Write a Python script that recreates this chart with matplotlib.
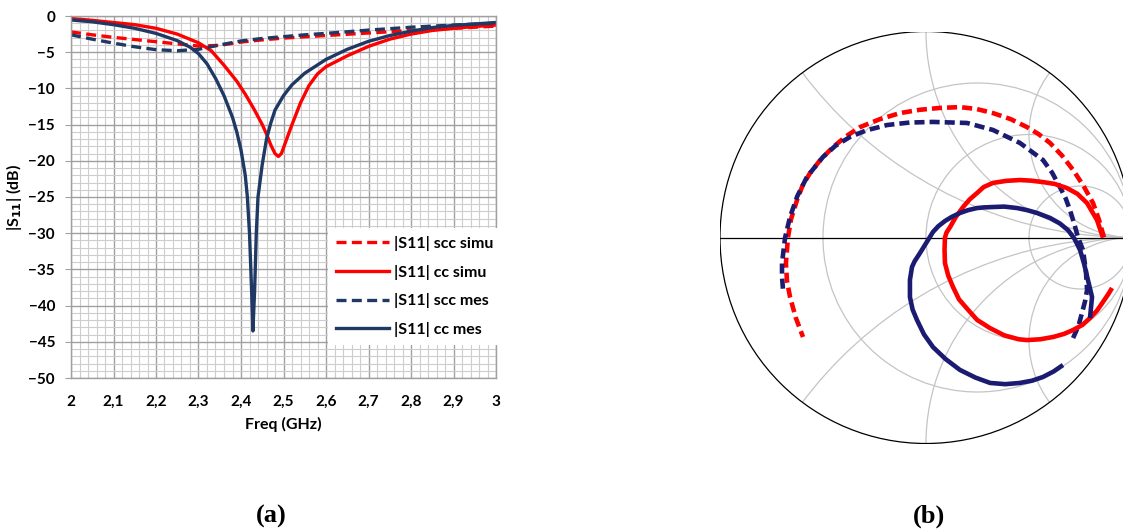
import numpy as np
import matplotlib
matplotlib.use('Agg')
import matplotlib.pyplot as plt
from matplotlib.patches import Circle
from matplotlib.ticker import MultipleLocator, FixedLocator, FixedFormatter

# ---------------- data: |S11| versus frequency ----------------
freq_cc_mes = [2.00, 2.05, 2.10, 2.15, 2.20, 2.25, 2.28, 2.30, 2.32, 2.34, 2.36, 2.38, 2.39,
               2.40, 2.41, 2.415, 2.42, 2.425, 2.428, 2.432, 2.436, 2.44, 2.45, 2.46, 2.47,
               2.48, 2.50, 2.52, 2.55, 2.60, 2.65, 2.70, 2.75, 2.80, 2.85, 2.90, 2.95, 3.00]
s11_cc_mes = [-0.55, -0.8, -1.2, -1.7, -2.4, -3.4, -4.3, -5.2, -6.6, -8.6, -11.0, -14.0, -16.0,
              -18.5, -22.0, -25.0, -30.0, -38.0, -43.5, -38.0, -30.0, -25.0, -20.5, -17.0, -14.8,
              -13.0, -11.0, -9.5, -7.9, -6.0, -4.6, -3.5, -2.7, -2.1, -1.6, -1.3, -1.1, -0.9]

freq_cc_simu = [2.00, 2.05, 2.10, 2.15, 2.20, 2.25, 2.30, 2.33, 2.36, 2.39, 2.41, 2.43, 2.45,
                2.46, 2.47, 2.48, 2.488, 2.495, 2.50, 2.51, 2.52, 2.54, 2.56, 2.58, 2.60, 2.65,
                2.70, 2.75, 2.80, 2.85, 2.90, 2.95, 3.00]
s11_cc_simu = [-0.35, -0.6, -0.9, -1.2, -1.7, -2.5, -3.7, -4.8, -6.8, -9.0, -10.8, -12.8, -15.0,
               -16.3, -17.8, -19.0, -19.4, -19.0, -18.2, -16.6, -15.0, -12.0, -9.6, -8.0, -7.0, -5.5,
               -4.2, -3.2, -2.5, -2.0, -1.7, -1.45, -1.25]

freq_scc_simu = [2.00, 2.05, 2.10, 2.15, 2.20, 2.25, 2.30, 2.35, 2.40, 2.45, 2.50, 2.60, 2.70,
                 2.80, 2.90, 3.00]
s11_scc_simu = [-2.2, -2.6, -2.95, -3.25, -3.55, -3.85, -4.15, -4.05, -3.6, -3.3, -3.05, -2.7,
                -2.35, -2.0, -1.7, -1.4]

freq_scc_mes = [2.00, 2.05, 2.10, 2.15, 2.20, 2.25, 2.30, 2.35, 2.40, 2.45, 2.50, 2.55, 2.60,
                2.70, 2.80, 2.90, 3.00]
s11_scc_mes = [-2.6, -3.2, -3.75, -4.25, -4.65, -4.8, -4.6, -4.0, -3.45, -3.1, -2.85, -2.6, -2.4,
               -1.95, -1.55, -1.25, -1.0]

x_tick_values = [2.0, 2.1, 2.2, 2.3, 2.4, 2.5, 2.6, 2.7, 2.8, 2.9, 3.0]
x_tick_labels = ['2', '2,1', '2,2', '2,3', '2,4', '2,5', '2,6', '2,7', '2,8', '2,9', '3']
y_tick_values = [0, -5, -10, -15, -20, -25, -30, -35, -40, -45, -50]
legend_labels = ['|S11| scc simu', '|S11| cc simu', '|S11| scc mes', '|S11| cc mes']

# ---------------- data: Smith chart (reflection coefficient, Re / Im) ----------------
smith_scc_simu_re = [0.864, 0.840, 0.811, 0.765, 0.714, 0.660, 0.602, 0.545, 0.490, 0.410, 0.325,
                     0.245, 0.165, 0.068, -0.030, -0.126, -0.225, -0.320, -0.390, -0.451, -0.510,
                     -0.563, -0.600, -0.626, -0.655, -0.670, -0.680, -0.675, -0.660, -0.632, -0.597]
smith_scc_simu_im = [0.000, 0.085, 0.167, 0.250, 0.328, 0.398, 0.459, 0.503, 0.536, 0.575, 0.604,
                     0.624, 0.633, 0.629, 0.620, 0.604, 0.574, 0.536, 0.490, 0.439, 0.380,
                     0.313, 0.250, 0.182, 0.090, 0.000, -0.124, -0.210, -0.289, -0.390, -0.483]

smith_scc_mes_re = [0.714, 0.740, 0.757, 0.772, 0.782, 0.776, 0.762, 0.738, 0.720, 0.699, 0.678,
                    0.650, 0.612, 0.568, 0.456, 0.325, 0.199, 0.034, -0.080, -0.189, -0.290,
                    -0.369, -0.440, -0.500, -0.578, -0.625, -0.660, -0.684, -0.699, -0.699, -0.694]
smith_scc_mes_im = [-0.488, -0.430, -0.367, -0.310, -0.255, -0.160, -0.061, 0.000, 0.065, 0.133,
                    0.190, 0.245, 0.315, 0.376, 0.459, 0.522, 0.556, 0.561, 0.558, 0.546, 0.520,
                    0.488, 0.445, 0.391, 0.294, 0.200, 0.100, 0.000, -0.124, -0.190, -0.255]

smith_cc_simu_re = [0.859, 0.830, 0.782, 0.735, 0.684, 0.625, 0.568, 0.510, 0.456, 0.390, 0.325,
                    0.280, 0.248, 0.212, 0.180, 0.145, 0.117, 0.100, 0.092, 0.090, 0.092, 0.108,
                    0.131, 0.160, 0.199, 0.248, 0.311, 0.380, 0.450, 0.490, 0.555, 0.617, 0.670,
                    0.714, 0.760, 0.796, 0.830, 0.859, 0.885, 0.903]
smith_cc_simu_im = [0.000, 0.085, 0.167, 0.212, 0.240, 0.260, 0.269, 0.276, 0.279, 0.275, 0.265,
                    0.245, 0.216, 0.185, 0.148, 0.100, 0.051, 0.025, 0.000, -0.060, -0.124, -0.185,
                    -0.240, -0.300, -0.345, -0.400, -0.440, -0.475, -0.494, -0.498, -0.494, -0.483,
                    -0.468, -0.449, -0.424, -0.391, -0.355, -0.313, -0.275, -0.245]

smith_cc_mes_re = [0.796, 0.806, 0.786, 0.768, 0.748, 0.720, 0.690, 0.650, 0.602, 0.539, 0.490,
                   0.442, 0.380, 0.325, 0.280, 0.248, 0.205, 0.165, 0.125, 0.092, 0.060, 0.034,
                   0.005, -0.029, -0.055, -0.068, -0.078, -0.078, -0.065, -0.044, -0.010, 0.034,
                   0.095, 0.165, 0.240, 0.311, 0.385, 0.456, 0.515, 0.568, 0.620, 0.665]
smith_cc_mes_im = [-0.391, -0.289, -0.206, -0.130, -0.061, -0.005, 0.035, 0.068, 0.095, 0.119,
                   0.133, 0.143, 0.150, 0.148, 0.146, 0.143, 0.133, 0.119, 0.100, 0.080, 0.055,
                   0.027, -0.020, -0.075, -0.115, -0.143, -0.206, -0.289, -0.350, -0.400, -0.470,
                   -0.532, -0.590, -0.643, -0.680, -0.706, -0.712, -0.706, -0.695, -0.677, -0.650,
                   -0.619]

smith_resistances = [1/3, 1.0, 3.0]
smith_reactances = [0.5, 1.0, 2.0, -0.5, -1.0, -2.0]

# ---------------- styling ----------------
RED = '#ff0000'
NAVY_A = '#1f3864'
NAVY_B = '#1b1b72'
FONT = 'Lato'

W, H = 1123, 531
fig = plt.figure(figsize=(W / 100, H / 100), dpi=100)
fig.patch.set_facecolor('white')

# ---------- panel (a) ----------
ax = fig.add_axes([71 / W, 1 - 378 / H, 425 / W, 362 / H])
ax.plot(freq_scc_simu, s11_scc_simu, color=RED, lw=2.4, dashes=(3, 1.6), label=legend_labels[0])
ax.plot(freq_cc_simu, s11_cc_simu, color=RED, lw=2.4, label=legend_labels[1])
ax.plot(freq_scc_mes, s11_scc_mes, color=NAVY_A, lw=2.4, dashes=(3, 1.6), label=legend_labels[2])
ax.plot(freq_cc_mes, s11_cc_mes, color=NAVY_A, lw=2.4, label=legend_labels[3])

ax.set_xlim(2, 3)
ax.set_ylim(-50, 0)
ax.xaxis.set_major_locator(FixedLocator(x_tick_values))
ax.xaxis.set_major_formatter(FixedFormatter(x_tick_labels))
ax.xaxis.set_minor_locator(MultipleLocator(0.02))
ax.yaxis.set_major_locator(FixedLocator(y_tick_values))
ax.yaxis.set_minor_locator(MultipleLocator(1))
ax.grid(which='major', color='#a0a0a0', lw=1.0)
ax.grid(which='minor', color='#cdcdcd', lw=0.8)
ax.set_axisbelow(True)
for s in ax.spines.values():
    s.set_color('#a0a0a0')
    s.set_linewidth(1.0)
ax.tick_params(axis='y', which='major', length=4.5, color='#a0a0a0', pad=7)
ax.tick_params(axis='x', which='major', length=0, pad=12)
ax.tick_params(which='minor', length=0)
for lab in ax.get_xticklabels() + ax.get_yticklabels():
    lab.set_fontfamily(FONT)
    lab.set_fontweight('bold')
    lab.set_fontsize(11)
ax.set_xlabel('Freq (GHz)', fontfamily=FONT, fontweight='bold', fontsize=11.5, labelpad=6)
ax.set_ylabel(r'|S$_{\mathbf{11}}$| (dB)', fontfamily=FONT, fontweight='bold', fontsize=11.5, labelpad=3)

leg = ax.legend(loc='upper left', bbox_to_anchor=(328 / W, 1 - 228 / H),
                bbox_transform=fig.transFigure, frameon=True, fancybox=False,
                framealpha=1, facecolor='white', edgecolor='none',
                handlelength=3.3, handletextpad=0.35, labelspacing=0.85,
                borderpad=0.5, borderaxespad=0,
                prop={'family': FONT, 'weight': 'bold', 'size': 11.5})

# ---------- panel (b): Smith chart ----------
cx, cy, R = 926, 237.5, 206
sx = fig.add_axes([(cx - R) / W, 1 - (cy + R) / H, 2 * R / W, 2 * R / H])
sx.set_xlim(-1, 1)
sx.set_ylim(-1, 1)
sx.set_aspect('equal')
sx.axis('off')

clip = Circle((0, 0), 1, transform=sx.transData, fill=False, lw=0)
sx.add_patch(clip)
grid_col = '#c4c4c4'
for r in smith_resistances:
    c = Circle((r / (1 + r), 0), 1 / (1 + r), fill=False, ec=grid_col, lw=0.9)
    sx.add_patch(c)
for x in smith_reactances:
    c = Circle((1, 1 / x), abs(1 / x), fill=False, ec=grid_col, lw=0.9)
    sx.add_patch(c)
    c.set_clip_path(clip)
sx.add_patch(Circle((0, 0), 1, fill=False, ec='black', lw=0.9))
sx.plot([-1, 1], [0, 0], color='black', lw=0.9)

sx.plot(smith_scc_simu_re, smith_scc_simu_im, color=RED, lw=3.3, dashes=(2.2, 1.1))
sx.plot(smith_scc_mes_re, smith_scc_mes_im, color=NAVY_B, lw=3.3, dashes=(2.2, 1.1))
sx.plot(smith_cc_simu_re, smith_cc_simu_im, color=RED, lw=3.3, solid_capstyle='butt')
sx.plot(smith_cc_mes_re, smith_cc_mes_im, color=NAVY_B, lw=3.3, solid_capstyle='butt')

# ---------- panel labels ----------
fig.text(271 / W, 1 - 516 / H, '(a)', ha='center', va='center',
         fontfamily='Liberation Serif', fontweight='bold', fontsize=19)
fig.text(929 / W, 1 - 516 / H, '(b)', ha='center', va='center',
         fontfamily='Liberation Serif', fontweight='bold', fontsize=19)

fig.savefig('out.png', dpi=100, facecolor='white')
